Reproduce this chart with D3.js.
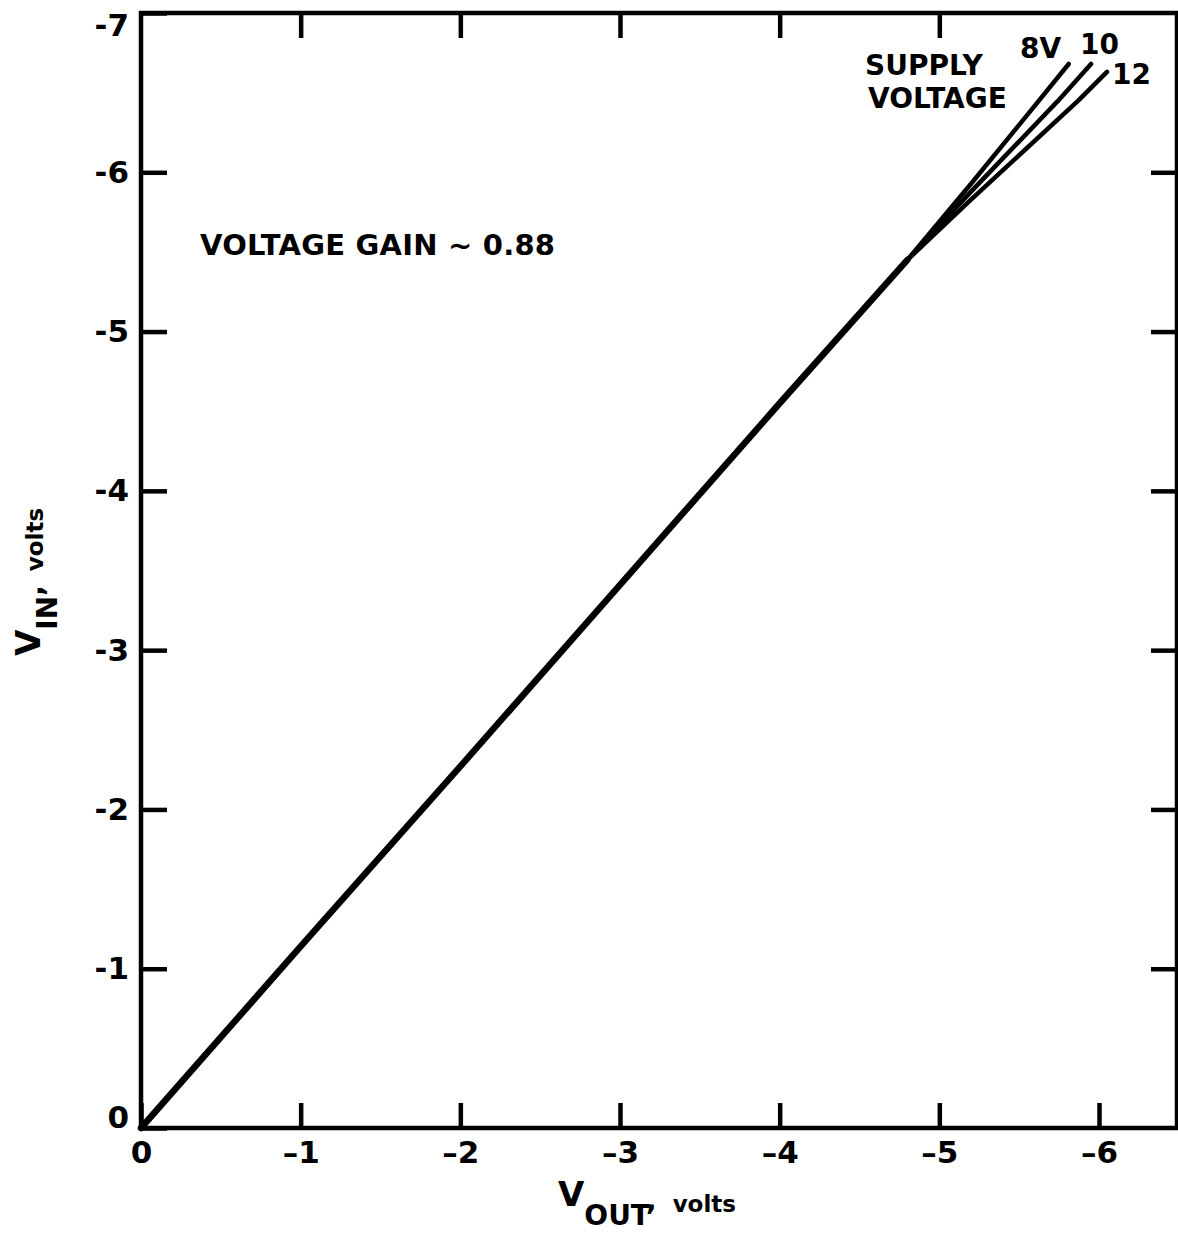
<!DOCTYPE html>
<html>
<head>
<meta charset="utf-8">
<script src="https://cdn.jsdelivr.net/npm/d3@7"></script>
<style>
  html, body { margin: 0; padding: 0; background: #fff; }
  svg { display: block; }
  text { font-family: "DejaVu Sans", sans-serif; font-weight: bold; fill: #000; }
</style>
</head>
<body>
<script>
// ---------- data ----------
const xTicks = [0, -1, -2, -3, -4, -5, -6];
const yTicks = [0, -1, -2, -3, -4, -5, -6, -7];
const topTicks = [-1, -2, -3, -4, -5];
const rightTicks = [-1, -2, -3, -4, -5, -6];

// common trunk (all supply voltages coincide)
const vOutTrunk = [0, -1, -2, -3, -4, -4.8];
const vInTrunk  = [0, -1.14, -2.27, -3.41, -4.55, -5.45];

// branches after the split
const supplyLabels = ["8V", "10", "12"];
const vOut8  = [-4.8, -5.2, -5.62, -5.81];
const vIn8   = [-5.45, -5.93, -6.445, -6.68];
const vOut10 = [-4.8, -5.2, -5.74, -5.95];
const vIn10  = [-5.45, -5.88, -6.445, -6.68];
const vOut12 = [-4.8, -5.2, -5.87, -6.05];
const vIn12  = [-5.45, -5.83, -6.45, -6.63];

// ---------- chart ----------
const W = 1178, H = 1237;
const svg = d3.select("body").append("svg").attr("width", W).attr("height", H);

const x = d3.scaleLinear().domain([0, -6]).range([141, 1099]);
const y = d3.scaleLinear().domain([0, -7]).range([1128, 13]);
const xEnd = 1177;

// frame
svg.append("rect")
  .attr("x", x(0)).attr("y", y(-7))
  .attr("width", xEnd - x(0)).attr("height", y(0) - y(-7))
  .attr("fill", "none").attr("stroke", "#000").attr("stroke-width", 4.5);

function styleAxis(g) {
  g.select(".domain").remove();
  g.selectAll(".tick line").attr("stroke", "#000").attr("stroke-width", 4.5);
  g.selectAll(".tick text").attr("fill", "#000")
    .style("font-family", "DejaVu Sans, sans-serif").style("font-weight", "bold");
}

// left axis with labels
const gl = svg.append("g").attr("transform", `translate(${x(0)},0)`)
  .call(d3.axisLeft(y).tickValues(yTicks).tickSize(-26).tickPadding(12)
    .tickFormat(d => d === 0 ? "0" : "-" + Math.abs(d)));
styleAxis(gl);
gl.selectAll(".tick text").style("font-size", "31px");
gl.selectAll(".tick").filter(d => d === 0).select("text").attr("dy", "-0.02em");
gl.selectAll(".tick").filter(d => d === -7).select("text").attr("dy", "0.72em");

// bottom axis with labels
const gb = svg.append("g").attr("transform", `translate(0,${y(0)})`)
  .call(d3.axisBottom(x).tickValues(xTicks).tickSize(-25).tickPadding(13)
    .tickFormat(d => d === 0 ? "0" : "\u2013" + Math.abs(d)));
styleAxis(gb);
gb.selectAll(".tick text").style("font-size", "31px");

// top axis (ticks only)
const gt = svg.append("g").attr("transform", `translate(0,${y(-7)})`)
  .call(d3.axisTop(x).tickValues(topTicks).tickSize(-25).tickFormat(""));
styleAxis(gt);

// right axis (ticks only)
const gr = svg.append("g").attr("transform", `translate(${xEnd},0)`)
  .call(d3.axisRight(y).tickValues(rightTicks).tickSize(-26).tickFormat(""));
styleAxis(gr);

// lines
const line = d3.line().x(d => x(d[0])).y(d => y(d[1]));
const zip = (a, b) => a.map((v, i) => [v, b[i]]);

const branches = [zip(vOut8, vIn8), zip(vOut10, vIn10), zip(vOut12, vIn12)];
branches.forEach(b => {
  svg.append("path").attr("d", line(b))
    .attr("fill", "none").attr("stroke", "#000").attr("stroke-width", 4.5)
    .attr("stroke-linecap", "round").attr("stroke-linejoin", "round");
});
svg.append("path").attr("d", line(zip(vOutTrunk, vInTrunk)))
  .attr("fill", "none").attr("stroke", "#000").attr("stroke-width", 6.5)
  .attr("stroke-linecap", "round").attr("stroke-linejoin", "round");

// series labels
const lblPos = [[1020, 58], [1080, 54], [1112, 84]];
supplyLabels.forEach((t, i) => {
  svg.append("text").attr("x", lblPos[i][0]).attr("y", lblPos[i][1])
    .style("font-size", "28px").text(t);
});

svg.append("text").attr("x", 865).attr("y", 75).style("font-size", "28px").text("SUPPLY");
svg.append("text").attr("x", 868).attr("y", 108).style("font-size", "28px").text("VOLTAGE");

svg.append("text").attr("x", 200).attr("y", 255).style("font-size", "29px")
  .attr("textLength", 355).attr("lengthAdjust", "spacing")
  .text("VOLTAGE GAIN ~ 0.88");

// axis titles
const xt = svg.append("text").attr("x", 558).attr("y", 1206).style("font-size", "34px");
xt.append("tspan").text("V");
xt.append("tspan").attr("dy", 19).style("font-size", "28px").text("OUT");
xt.append("tspan").attr("dy", -15).style("font-size", "28px").text(",");
xt.append("tspan").attr("dx", 16).attr("dy", 2).style("font-size", "23px").text("volts");

const yt = svg.append("text").attr("transform", "translate(40,656) rotate(-90)").style("font-size", "34px");
yt.append("tspan").text("V");
yt.append("tspan").attr("dy", 17).style("font-size", "28px").text("IN");
yt.append("tspan").attr("dy", -14).style("font-size", "28px").text(",");
yt.append("tspan").attr("dx", 14).style("font-size", "23px").text("volts");
</script>
</body>
</html>
